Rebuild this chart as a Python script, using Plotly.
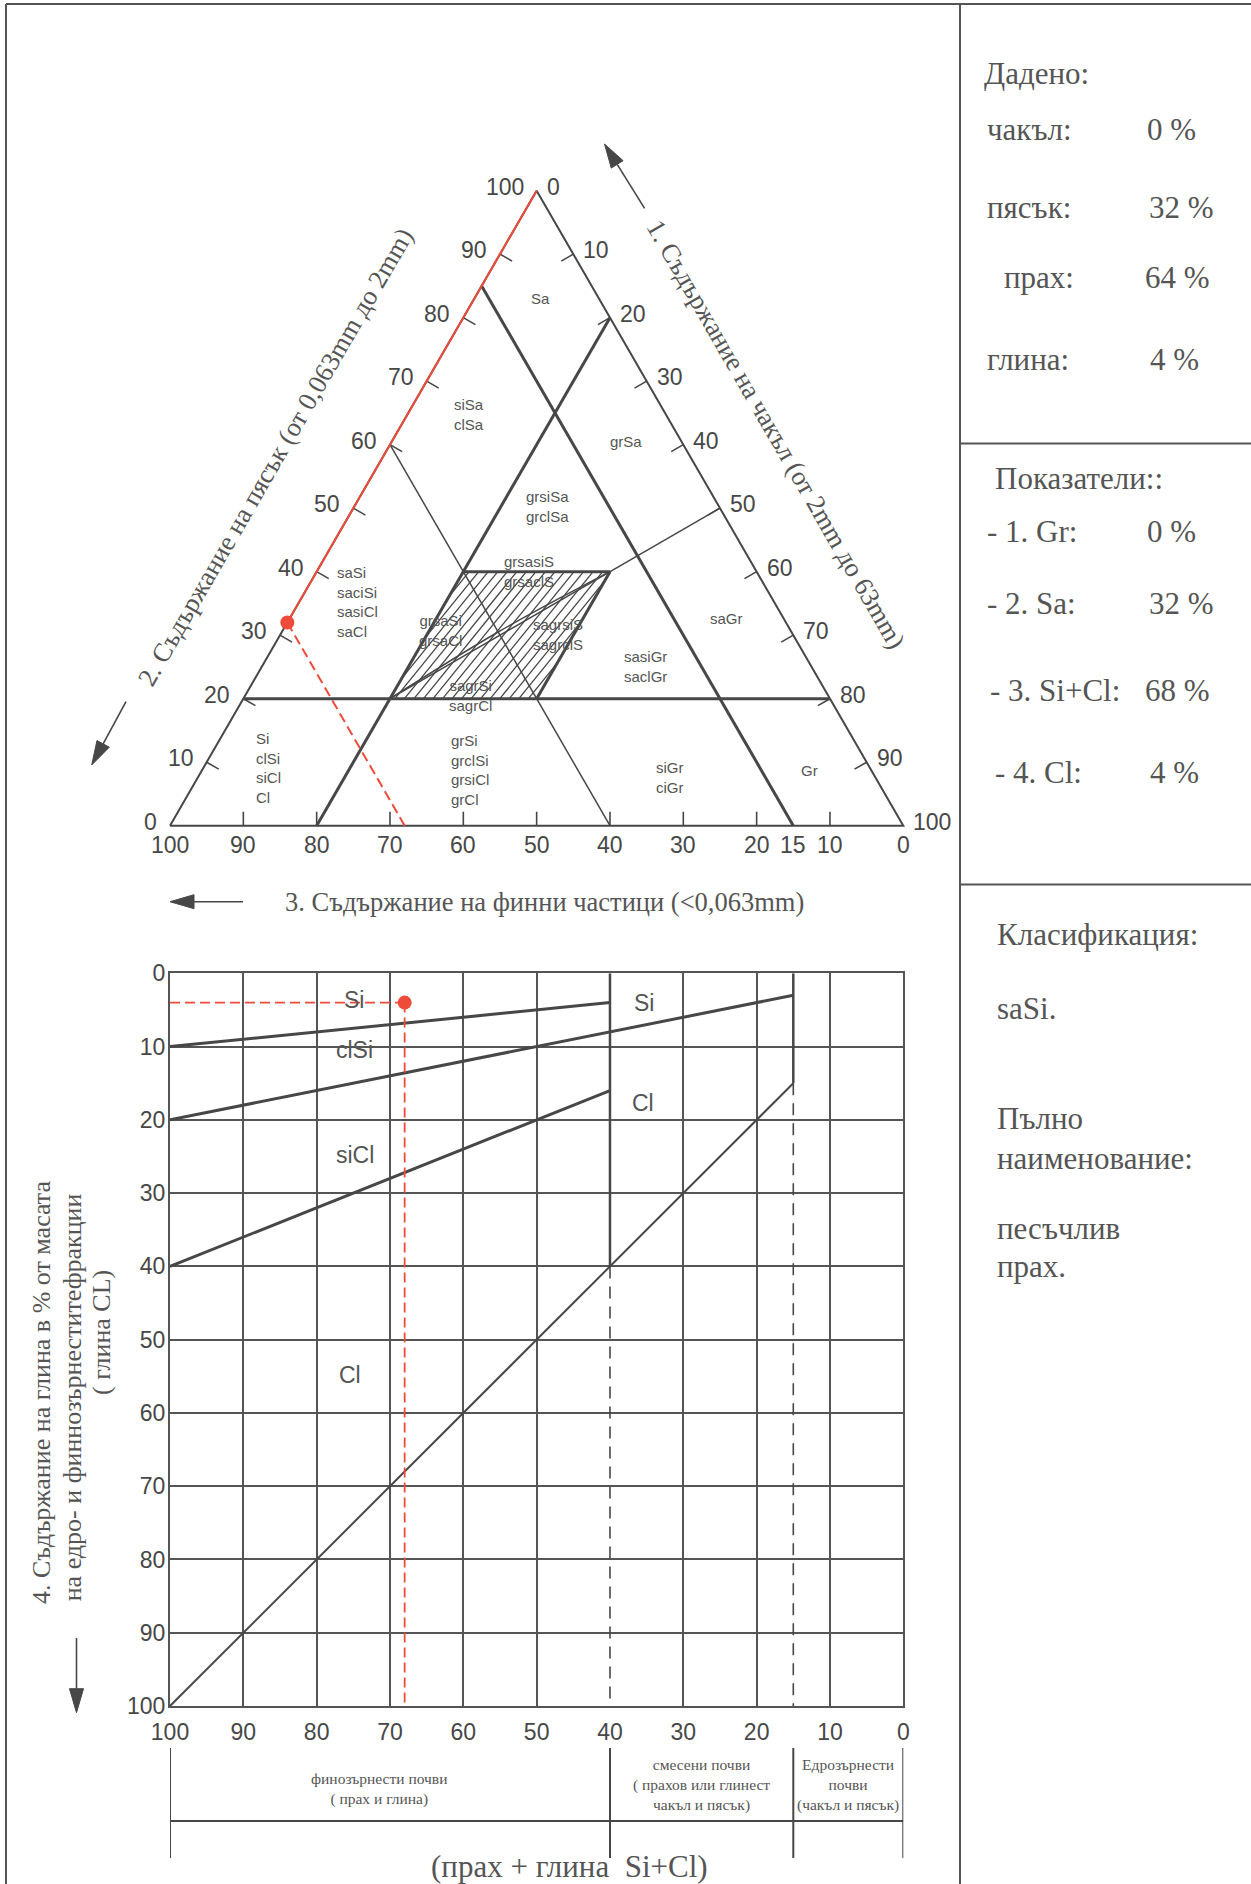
import math
import plotly.graph_objects as go

W, H = 1251, 1884
INK = "#474747"
TXT = "#555555"
RED = "#ee4b3a"
SANS = "Liberation Sans, Arial, sans-serif"
SERIF = "Liberation Serif, Times New Roman, serif"

# ---------------- sample composition, % by mass ----------------
gravel_pct = 0
sand_pct = 32
silt_pct = 64
clay_pct = 4
fines_pct = silt_pct + clay_pct

# ---------------- ternary diagram: points are (gravel, sand, fines) ----------------
tri_outline = [(0, 0, 100), (0, 100, 0), (100, 0, 0), (0, 0, 100)]
tri_main_bounds = [
    [(0, 85, 15), (85, 0, 15)],     # fines = 15 %
    [(20, 0, 80), (20, 80, 0)],     # gravel = 20 %
    [(0, 20, 80), (80, 20, 0)],     # sand = 20 %
    [(20, 40, 40), (40, 40, 20)],   # sand = 40 % (mixed zone)
    [(40, 40, 20), (40, 20, 40)],   # gravel = 40 % (mixed zone)
]
tri_minor_bounds = [
    [(0, 60, 40), (60, 0, 40)],     # fines = 40 %
    [(50, 50, 0), (20, 20, 60)],    # gravel = sand
]
tri_lens_curve = [(20, 20, 60), (29.5, 30.5, 40), (40, 40, 20)]
# mixed zone: gravel 20..40 %, sand 20..40 %
mixed_gravel = (20, 40)
mixed_sand = (20, 40)
tri_tick_steps = [10, 20, 30, 40, 50, 60, 70, 80, 90]
tri_label_steps = [0, 10, 20, 30, 40, 50, 60, 70, 80, 90, 100]
fines_extra_labels = [15]

# (text, gravel, sand, alignment)
tri_zone_labels = [
    ("Sa", 9.0, 83.0, "center"),
    ("siSa<br>clSa", 8.4, 64.7, "center"),
    ("grSa", 32.0, 60.5, "center"),
    ("grsiSa<br>grclSa", 26.3, 50.3, "center"),
    ("saSi<br>saciSi<br>sasiCl<br>saCl", 4.85, 35.3, "left"),
    ("grsasiS<br>grsaclS", 28.9, 40.1, "center"),
    ("grsaSi<br>grsaCl", 21.5, 30.8, "center"),
    ("sagrsiS<br>sagrclS", 37.9, 30.1, "center"),
    ("saGr", 59.5, 32.7, "center"),
    ("sasiGr<br>saclGr", 52.4, 25.0, "center"),
    ("sagrSi<br>sagrCl", 30.7, 20.55, "center"),
    ("Si<br>clSi<br>siCl<br>Cl", 6.86, 9.1, "left"),
    ("grSi<br>grclSi<br>grsiCl<br>grCl", 33.6, 8.85, "left"),
    ("siGr<br>ciGr", 64.4, 7.54, "center"),
    ("Gr", 82.9, 8.66, "center"),
]

# ---------------- lower diagram: x = silt + clay (%), y = clay (%) ----------------
lc_main_bounds = [[(100, 10), (40, 4)], [(100, 20), (15, 3)], [(100, 40), (40, 16)]]
lc_diagonal = [(100, 100), (15, 15)]
lc_split_solid = [[(40, 0), (40, 40)], [(15, 0), (15, 15)]]
lc_split_dashed = [[(40, 40), (40, 100)], [(15, 15), (15, 100)]]
lc_ticks = [0, 10, 20, 30, 40, 50, 60, 70, 80, 90, 100]
lc_minor_grid = [90, 80, 70, 60, 50, 30, 20, 10]
lc_zone_labels = [("Si", 74.9, 3.7), ("clSi", 74.8, 10.5), ("siCl", 74.8, 24.8),
                  ("Cl", 75.4, 54.8), ("Si", 35.3, 4.0), ("Cl", 35.5, 17.7)]
soil_group_edges = [100, 40, 15, 0]
soil_groups = [
    ("финозърнести почви<br>( прах и глина)", 71.5, 1789),
    ("смесени почви<br>( прахов или глинест<br>чакъл и пясък)", 27.5, 1785),
    ("Едрозърнести<br>почви<br>(чакъл и пясък)", 7.5, 1785),
]

# ---------------- page geometry (pixels) ----------------
TRI_X0, TRI_BASE, TRI_SIDE = 170.0, 825.7, 733.3
UNIT = TRI_SIDE / 100.0
LC_LEFT, LC_RIGHT, LC_TOP, LC_BOTTOM = 170.0, 903.3, 973.3, 1706.0
SQ3 = math.sqrt(3) / 2


def px(x):
    return x / W


def py(y):
    return 1 - y / H


def tern(gr, sa):
    return gr + sa / 2.0, sa * SQ3


def tern_path(points):
    xs, ys = [], []
    for gr, sa, *_ in points:
        x, y = tern(gr, sa)
        xs.append(x)
        ys.append(y)
    return xs, ys


def tern_segments(segs):
    xs, ys = [], []
    for seg in segs:
        sx, sy = tern_path(seg)
        xs += sx + [None]
        ys += sy + [None]
    return xs, ys


def plain_segments(segs):
    xs, ys = [], []
    for (x0, y0), (x1, y1) in segs:
        xs += [x0, x1, None]
        ys += [y0, y1, None]
    return xs, ys


def hatch_mixed_zone(spacing=1.3, angle_deg=51):
    """Diagonal hatch lines clipped to the gravel/sand mixed-zone parallelogram."""
    g0, g1 = mixed_gravel
    s0, s1 = mixed_sand
    vb, vt = s0 * SQ3, s1 * SQ3
    k1 = 1 / math.tan(math.radians(angle_deg))   # hatch: h = c + k1 * v
    k2 = 0.5 / SQ3                                # sides: h = g + v * k2
    xs, ys = [], []
    c = g0 - vt * k1
    while c < g1 + s1 / 2.0:
        v_lo = max(vb, (g0 - c) / (k1 - k2))
        v_hi = min(vt, (g1 - c) / (k1 - k2))
        if v_hi - v_lo > 1e-6:
            xs += [c + k1 * v_lo, c + k1 * v_hi, None]
            ys += [v_lo, v_hi, None]
        c += spacing
    return xs, ys


fig = go.Figure()

# ---- ternary diagram ----
xs, ys = hatch_mixed_zone()
fig.add_trace(go.Scatter(x=xs, y=ys, mode="lines", line=dict(color=INK, width=1.3), hoverinfo="skip"))

xs, ys = tern_path(tri_outline)
fig.add_trace(go.Scatter(x=xs, y=ys, mode="lines", line=dict(color=INK, width=2), hoverinfo="skip"))

xs, ys = tern_segments(tri_minor_bounds)
fig.add_trace(go.Scatter(x=xs, y=ys, mode="lines", line=dict(color=INK, width=1.5), hoverinfo="skip"))

xs, ys = tern_path(tri_lens_curve)
fig.add_trace(go.Scatter(x=xs, y=ys, mode="lines", line=dict(color=INK, width=1.5, shape="spline"),
                         hoverinfo="skip"))

xs, ys = tern_segments(tri_main_bounds)
fig.add_trace(go.Scatter(x=xs, y=ys, mode="lines", line=dict(color=INK, width=3), hoverinfo="skip"))

# inward tick marks, perpendicular to each side
TICK = 2.2
tick_segs = []
for t in tri_tick_steps:
    tick_segs.append([(0, t), (TICK, t - TICK / 2)])                       # sand side
    tick_segs.append([(t, 100 - t), (t - TICK / 2, 100 - t - TICK / 2)])   # gravel side
    tick_segs.append([(100 - t, 0), (100 - t - TICK / 2, TICK)])           # fines side
xs, ys = tern_segments(tick_segs)
fig.add_trace(go.Scatter(x=xs, y=ys, mode="lines", line=dict(color=INK, width=1.6), hoverinfo="skip"))

xs, ys = tern_path([(gravel_pct, sand_pct), (0, 100)])
fig.add_trace(go.Scatter(x=xs, y=ys, mode="lines", line=dict(color=RED, width=2), hoverinfo="skip"))
xs, ys = tern_path([(gravel_pct, sand_pct), (100 - fines_pct, 0)])
fig.add_trace(go.Scatter(x=xs, y=ys, mode="lines", line=dict(color=RED, width=2, dash="10px,5px"),
                         hoverinfo="skip"))
xs, ys = tern_path([(gravel_pct, sand_pct)])
fig.add_trace(go.Scatter(x=xs, y=ys, mode="markers", marker=dict(color=RED, size=14), hoverinfo="skip"))

annotations = []
TICKFONT = dict(family=SANS, size=23, color=INK)
for v in tri_label_steps:
    x, y = tern(0, v)
    annotations.append(dict(x=x, y=y, xref="x", yref="y", text=str(v), showarrow=False,
                            xanchor="right", yanchor="middle", xshift=-11, yshift=4, font=TICKFONT))
    x, y = tern(v, 100 - v)
    annotations.append(dict(x=x, y=y, xref="x", yref="y", text=str(v), showarrow=False,
                            xanchor="left", yanchor="middle", xshift=8, yshift=4, font=TICKFONT))
for v in tri_label_steps + fines_extra_labels:
    x, y = tern(100 - v, 0)
    annotations.append(dict(x=x, y=y, xref="x", yref="y", text=str(v), showarrow=False,
                            xanchor="center", yanchor="top", yshift=-4, font=TICKFONT))

for text, gr, sa, align in tri_zone_labels:
    x, y = tern(gr, sa)
    annotations.append(dict(x=x, y=y, xref="x", yref="y", text=text, showarrow=False,
                            xanchor="left" if align == "left" else "center", align=align,
                            yanchor="middle", font=dict(family=SANS, size=15, color=TXT)))

TITLEFONT = dict(family=SERIF, size=26.5, color=TXT)
x, y = tern(0, 50)
annotations.append(dict(x=x, y=y, xref="x", yref="y", showarrow=False, textangle=-60,
                        xanchor="center", yanchor="middle",
                        text="2. Съдържание на пясък (от 0,063mm до 2mm)",
                        xshift=-78, yshift=51, font=TITLEFONT))
x, y = tern(50, 50)
annotations.append(dict(x=x, y=y, xref="x", yref="y", showarrow=False, textangle=60,
                        xanchor="center", yanchor="middle",
                        text="1. Съдържание на чакъл (от 2mm до 63mm)",
                        xshift=56, yshift=74, font=TITLEFONT))
x, y = tern(50, 0)
annotations.append(dict(x=x, y=y, xref="x", yref="y", showarrow=False,
                        xanchor="center", yanchor="middle",
                        text="3. Съдържание на финни частици (<0,063mm)",
                        xshift=8, yshift=-76, font=TITLEFONT))

# ---- lower diagram ----
xs, ys = plain_segments([lc_diagonal])
fig.add_trace(go.Scatter(x=xs, y=ys, xaxis="x2", yaxis="y2", mode="lines",
                         line=dict(color=INK, width=2), hoverinfo="skip"))
xs, ys = plain_segments(lc_split_dashed)
fig.add_trace(go.Scatter(x=xs, y=ys, xaxis="x2", yaxis="y2", mode="lines",
                         line=dict(color=INK, width=1.6, dash="12px,8px"), hoverinfo="skip"))
xs, ys = plain_segments(lc_split_solid)
fig.add_trace(go.Scatter(x=xs, y=ys, xaxis="x2", yaxis="y2", mode="lines",
                         line=dict(color=INK, width=2.5), hoverinfo="skip"))
xs, ys = plain_segments(lc_main_bounds)
fig.add_trace(go.Scatter(x=xs, y=ys, xaxis="x2", yaxis="y2", mode="lines",
                         line=dict(color=INK, width=3), hoverinfo="skip"))
xs, ys = plain_segments([[(100, clay_pct), (fines_pct, clay_pct)],
                         [(fines_pct, clay_pct), (fines_pct, 100)]])
fig.add_trace(go.Scatter(x=xs, y=ys, xaxis="x2", yaxis="y2", mode="lines",
                         line=dict(color=RED, width=1.8, dash="10px,5px"), hoverinfo="skip"))
fig.add_trace(go.Scatter(x=[fines_pct], y=[clay_pct], xaxis="x2", yaxis="y2", mode="markers",
                         marker=dict(color=RED, size=14), hoverinfo="skip"))

for text, x, y in lc_zone_labels:
    annotations.append(dict(x=x, y=y, xref="x2", yref="y2", text=text, showarrow=False,
                            xanchor="center", yanchor="middle",
                            font=dict(family=SANS, size=23, color=TXT)))

# soil group band under the lower diagram
shapes = []
BAND_TOP, BAND_MID, BAND_BOT = 1748.0, 1821.0, 1858.0
for e in soil_group_edges:
    shapes.append(dict(type="line", xref="x2", yref="paper", x0=e, x1=e,
                       y0=py(BAND_TOP), y1=py(BAND_BOT), line=dict(color=INK, width=2)))
shapes.append(dict(type="line", xref="x2", yref="paper", x0=soil_group_edges[0],
                   x1=soil_group_edges[-1], y0=py(BAND_MID), y1=py(BAND_MID),
                   line=dict(color=INK, width=2)))
for text, xc, yc in soil_groups:
    annotations.append(dict(x=xc, y=py(yc), xref="x2", yref="paper", text=text, showarrow=False,
                            xanchor="center", yanchor="middle",
                            font=dict(family=SERIF, size=15.5, color=TXT)))
annotations.append(dict(x=45.5, y=py(1866), xref="x2", yref="paper", text="(прах + глина  Si+Cl)",
                        showarrow=False, xanchor="center", yanchor="middle",
                        font=dict(family=SERIF, size=31, color=TXT)))

# vertical title of the lower diagram
for text, xc, yc in [("4. Съдържание на глина в % от масата", 41.6, 1392.5),
                     ("на едро- и финнозърнеститефракции", 72.3, 1397.0),
                     ("( глина CL)", 101.0, 1333.0)]:
    annotations.append(dict(x=px(xc), y=py(yc), xref="paper", yref="paper", textangle=-90,
                            xanchor="center", yanchor="middle",
                            text=text, showarrow=False,
                            font=dict(family=SERIF, size=26, color=TXT)))

# ---- side panel ----
PANEL = dict(family=SERIF, size=31, color=TXT)
panel_text = [
    ("Дадено:", 982, 74),
    ("чакъл:", 985, 129), (f"{gravel_pct} %", 1145, 129),
    ("пясък:", 985, 207), (f"{sand_pct} %", 1147, 207),
    ("прах:", 1002, 277), (f"{silt_pct} %", 1143, 277),
    ("глина:", 985, 359), (f"{clay_pct} %", 1148, 359),
    ("Показатели::", 993, 478),
    ("- 1. Gr:", 985, 532), (f"{gravel_pct} %", 1145, 532),
    ("- 2. Sa:", 985, 604), (f"{sand_pct} %", 1147, 604),
    ("- 3. Si+Cl:", 988, 690), (f"{fines_pct} %", 1143, 690),
    ("- 4. Cl:", 993, 772), (f"{clay_pct} %", 1148, 772),
    ("Класификация:", 995, 935),
    ("saSi.", 995, 1008),
    ("Пълно", 995, 1118),
    ("наименование:", 995, 1158),
    ("песъчлив", 995, 1228),
    ("прах.", 995, 1266),
]
for text, x, y in panel_text:
    annotations.append(dict(x=px(x), y=py(y), xref="paper", yref="paper", text=text,
                            showarrow=False, xanchor="left", yanchor="middle", font=PANEL))

# ---- page frame ----
FRAME = dict(color="#555555", width=2)
shapes += [
    dict(type="line", xref="paper", yref="paper", x0=px(6), x1=px(6), y0=py(4), y1=0, line=FRAME),
    dict(type="line", xref="paper", yref="paper", x0=px(6), x1=1, y0=py(4), y1=py(4), line=FRAME),
    dict(type="line", xref="paper", yref="paper", x0=px(960), x1=px(960), y0=py(4), y1=0, line=FRAME),
    dict(type="line", xref="paper", yref="paper", x0=px(960), x1=1, y0=py(443.5), y1=py(443.5), line=FRAME),
    dict(type="line", xref="paper", yref="paper", x0=px(960), x1=1, y0=py(884.5), y1=py(884.5), line=FRAME),
]


# direction arrows
def arrow(tail, tip, head_len=24, head_w=14):
    (x0, y0), (x1, y1) = tail, tip
    L = math.hypot(x1 - x0, y1 - y0)
    ux, uy = (x1 - x0) / L, (y1 - y0) / L
    bx, by = x1 - ux * head_len, y1 - uy * head_len
    nx, ny = -uy, ux
    p1 = (bx + nx * head_w / 2, by + ny * head_w / 2)
    p2 = (bx - nx * head_w / 2, by - ny * head_w / 2)
    path = "M{},{} L{},{} L{},{} Z".format(px(x1), py(y1), px(p1[0]), py(p1[1]), px(p2[0]), py(p2[1]))
    return [
        dict(type="line", xref="paper", yref="paper", x0=px(x0), y0=py(y0), x1=px(bx), y1=py(by),
             line=dict(color=INK, width=1.6)),
        dict(type="path", xref="paper", yref="paper", path=path, fillcolor=INK,
             line=dict(color=INK, width=1)),
    ]


shapes += arrow((126, 701.7), (91.7, 765))
shapes += arrow((644.6, 208.3), (604.5, 144))
shapes += arrow((243, 901.7), (170, 901.7))
shapes += arrow((76.5, 1638), (76.5, 1712.7))

fig.update_layout(
    template="none",
    width=W, height=H, margin=dict(l=0, r=0, t=0, b=0, pad=0, autoexpand=False),
    paper_bgcolor="white", plot_bgcolor="rgba(0,0,0,0)", showlegend=False,
    xaxis=dict(domain=[0, 1], range=[-TRI_X0 / UNIT, (W - TRI_X0) / UNIT], visible=False,
               automargin=False, fixedrange=True),
    yaxis=dict(domain=[0, 1], range=[-(H - TRI_BASE) / UNIT, TRI_BASE / UNIT], visible=False,
               automargin=False, fixedrange=True),
    xaxis2=dict(domain=[px(LC_LEFT), px(LC_RIGHT)], range=[100, 0], anchor="y2",
                tickvals=lc_ticks, ticks="", showgrid=False, zeroline=False, automargin=False,
                minor=dict(tickvals=lc_minor_grid, showgrid=True, gridcolor="#555555", gridwidth=2, ticks=""),
                showline=True, linecolor="#555555", linewidth=2, mirror=True,
                tickfont=TICKFONT, ticklabelstandoff=4, fixedrange=True),
    yaxis2=dict(domain=[py(LC_BOTTOM), py(LC_TOP)], range=[100, 0], anchor="x2",
                tickvals=lc_ticks, ticks="", showgrid=True, gridcolor="#555555", gridwidth=2,
                zeroline=False, showline=True, linecolor="#555555", linewidth=2, mirror=True,
                automargin=False, tickfont=TICKFONT, ticklabelstandoff=-2, fixedrange=True),
    annotations=annotations,
    shapes=shapes,
)

fig.write_html("out.html")
